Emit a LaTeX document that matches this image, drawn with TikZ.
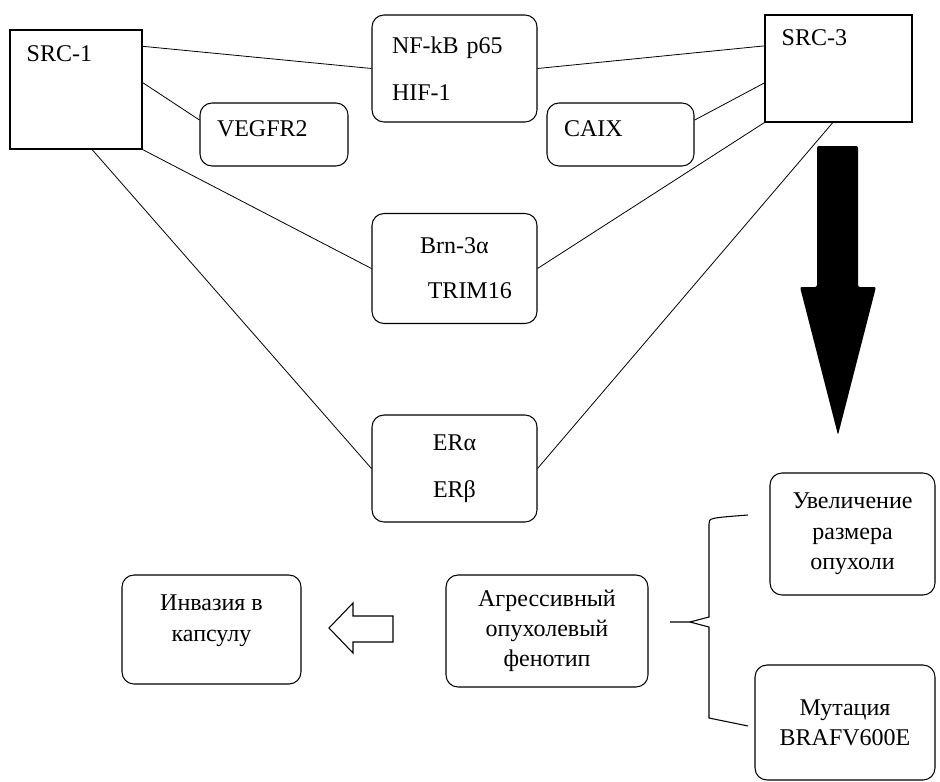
\documentclass[tikz,border=0pt]{standalone}
\usepackage{fontspec}
\setmainfont{Liberation Serif}
\usetikzlibrary{positioning}

\begin{document}
\begin{tikzpicture}[x=0.75pt, y=-0.75pt, node distance=150pt,
    font=\fontsize{18}{22.5}\selectfont,
    sqbox/.style={draw, line width=0.8pt},
    tagbox/.style={draw, line width=0.8pt, rounded corners=9pt, align=center},
    link/.style={line width=0.6pt}]
  \useasboundingbox (0,0) rectangle (940,782);

  \node (src1)  [sqbox, minimum width=99pt, minimum height=89.25pt,
    label={[anchor=north west, inner sep=0pt, xshift=12.75pt, yshift=-12pt]north west:SRC-1}] at (76,89.5) {};
  \node (src3)  [sqbox, minimum width=110.25pt, minimum height=80.25pt,
    label={[anchor=north west, inner sep=0pt, xshift=12.75pt, yshift=-11pt]north west:SRC-3}] at (838.5,68.5) {};
  \node (nfkb)  [tagbox, align=left, text width=93.75pt, inner xsep=15pt, minimum height=80.25pt] at (454.5,68.5) {NF-kB p65\\[13pt]HIF-1};
  \node (brn)   [tagbox, minimum width=123.75pt, minimum height=82.5pt, below of=nfkb] {Brn-3α\\[11pt]\hspace*{23pt}TRIM16};
  \node (er)    [tagbox, minimum width=123.75pt, minimum height=80.25pt, below of=brn] {ERα\\[13pt]ERβ};
  \node (vegf)  [tagbox, align=left, text width=85.5pt, inner xsep=12.75pt, text depth=9pt, minimum height=47.25pt] at (274,134.5) {VEGFR2};
  \node (caix)  [tagbox, align=left, text width=84.75pt, inner xsep=12.75pt, text depth=9pt, minimum height=47.25pt] at (620.5,134.5) {CAIX};
  \node (inv)   [tagbox, minimum width=134.25pt, minimum height=81.75pt, text depth=17pt] at (211.5,629.5) {Инвазия в\\[1pt]капсулу};
  \node (aggr)  [tagbox, minimum width=151.5pt, minimum height=84pt] at (547,631) {Агрессивный\\опухолевый\\фенотип};
  \node (size)  [tagbox, minimum width=123.75pt, minimum height=91.5pt] at (852.5,534) {Увеличение\\[1pt]размера\\опухоли};
  \node (braf)  [tagbox, minimum width=135pt, minimum height=86.25pt] at (845,722.5) {Мутация\\BRAFV600E};

  % links to SRC-1 and SRC-3
  \draw[link] (src1.33) -- (nfkb.west);
  \draw[link] (src1.6) -- (vegf.169);
  \draw[link] (src1.south east) -- (brn.west);
  \draw[link] (src1.-75) -- (er.west);
  \draw[link] (nfkb.east) -- (src3.163);
  \draw[link] (caix.11) -- (src3.191);
  \draw[link] (brn.east) -- (src3.south west);
  \draw[link] (er.east) -- (src3.-96);

  % big arrow
  \fill[rounded corners=1.5pt] (817,146) -- (858,146) -- (858,287) -- (876,287)
    -- (838,435) -- (800,287) -- (817,287) -- cycle;

  % hollow arrow
  \draw[line width=0.8pt] (329,628) -- (353,603) -- (353,616) -- (393,616)
    -- (393,642) -- (353,642) -- (353,653) -- cycle;

  % brace
  \coordinate (brc) at (670,622);
  \draw[line width=0.8pt] (brc) -- (690,622) -- (709,617) -- (709,524)
    .. controls (709,518) .. (748,515);
  \draw[line width=0.8pt] (690,622) -- (709,627) -- (709,718) -- (748,726);
\end{tikzpicture}
\end{document}
